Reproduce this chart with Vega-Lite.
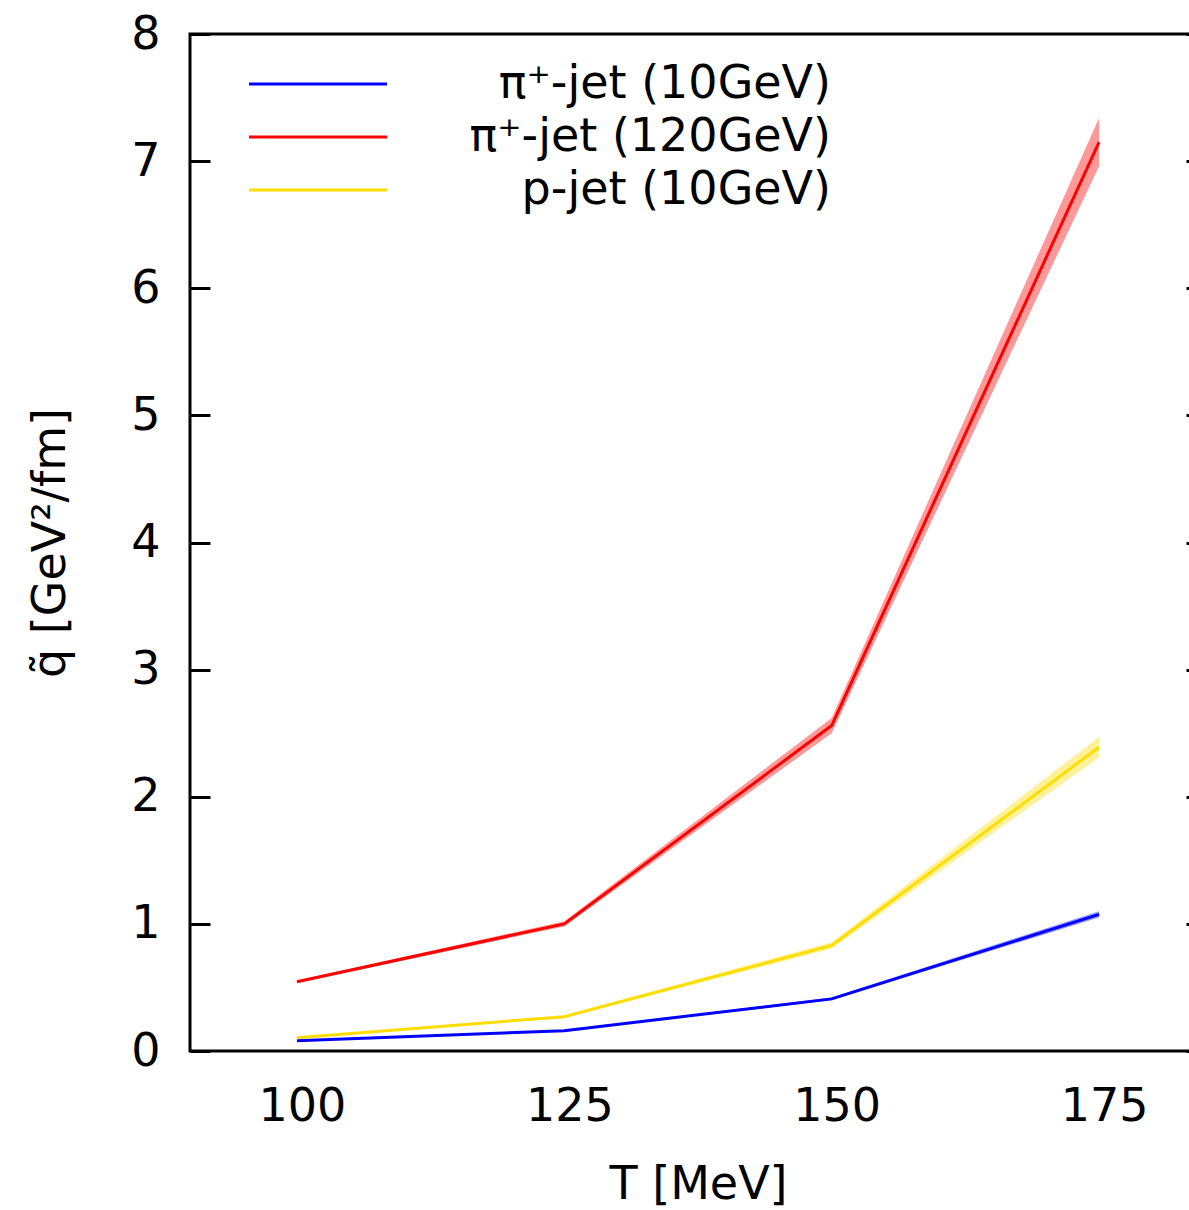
{
  "$schema": "https://vega.github.io/schema/vega-lite/v6.json",
  "width": 1016,
  "height": 1017,
  "autosize": {"type": "none"},
  "padding": {"left": 190, "top": 34, "right": 0, "bottom": 160},
  "background": "white",
  "view": {"stroke": "black", "strokeWidth": 3},
  "config": {
    "font": "DejaVu Sans"
  },
  "data": {
    "values": [
      {"s": "π⁺-jet (10GeV)", "T": 100, "q": 0.08, "lo": 0.077, "hi": 0.083},
      {"s": "π⁺-jet (10GeV)", "T": 125, "q": 0.16, "lo": 0.155, "hi": 0.165},
      {"s": "π⁺-jet (10GeV)", "T": 150, "q": 0.41, "lo": 0.40, "hi": 0.42},
      {"s": "π⁺-jet (10GeV)", "T": 175, "q": 1.075, "lo": 1.05, "hi": 1.10},
      {"s": "π⁺-jet (120GeV)", "T": 100, "q": 0.545, "lo": 0.535, "hi": 0.555},
      {"s": "π⁺-jet (120GeV)", "T": 125, "q": 1.0, "lo": 0.98, "hi": 1.02},
      {"s": "π⁺-jet (120GeV)", "T": 150, "q": 2.56, "lo": 2.50, "hi": 2.62},
      {"s": "π⁺-jet (120GeV)", "T": 175, "q": 7.15, "lo": 6.96, "hi": 7.34},
      {"s": "p-jet (10GeV)", "T": 100, "q": 0.105, "lo": 0.10, "hi": 0.11},
      {"s": "p-jet (10GeV)", "T": 125, "q": 0.27, "lo": 0.26, "hi": 0.28},
      {"s": "p-jet (10GeV)", "T": 150, "q": 0.83, "lo": 0.805, "hi": 0.855},
      {"s": "p-jet (10GeV)", "T": 175, "q": 2.39, "lo": 2.31, "hi": 2.47}
    ]
  },
  "resolve": {"axis": {"y": "independent"}},
  "layer": [
    {
      "mark": {"type": "area", "opacity": 0.4},
      "encoding": {
        "x": {
          "field": "T", "type": "quantitative",
          "scale": {"domain": [90, 185], "nice": false, "zero": false},
          "axis": {
            "values": [100, 125, 150, 175], "ticks": false, "domain": false, "grid": false,
            "labelFontSize": 46, "labelColor": "black", "labelPadding": 33, "labelOffset": 5,
            "title": "T [MeV]", "titleFontSize": 46, "titleFontWeight": "normal", "titleColor": "black", "titlePadding": 33
          }
        },
        "y": {
          "field": "lo", "type": "quantitative",
          "scale": {"domain": [0, 8], "nice": false},
          "axis": {
            "values": [0, 1, 2, 3, 4, 5, 6, 7, 8], "domain": false, "grid": false,
            "tickSize": -20, "tickWidth": 3, "tickColor": "black",
            "labelFontSize": 46, "labelColor": "black", "labelPadding": 50,
            "title": "q̃ [GeV²/fm]", "titleFontSize": 46, "titleFontWeight": "normal", "titleColor": "black", "titlePadding": 56
          }
        },
        "y2": {"field": "hi"},
        "color": {
          "field": "s", "type": "nominal",
          "scale": {"domain": ["π⁺-jet (10GeV)", "π⁺-jet (120GeV)", "p-jet (10GeV)"], "range": ["#0000ff", "#ff0000", "#ffdd00"]},
          "legend": {
            "orient": "none", "legendX": 105, "legendY": 27, "title": null,
            "symbolType": "M-5,0H5", "symbolSize": 762, "symbolStrokeWidth": 3, "symbolOpacity": 1,
            "labelFontSize": 46, "labelColor": "black", "labelAlign": "right", "labelOffset": 490,
            "rowPadding": 7, "padding": 0, "labelLimit": 1000
          }
        }
      }
    },
    {
      "mark": {"type": "line", "strokeWidth": 3},
      "encoding": {
        "x": {"field": "T", "type": "quantitative"},
        "y": {
          "field": "q", "type": "quantitative",
          "axis": {
            "orient": "right", "values": [0, 1, 2, 3, 4, 5, 6, 7, 8], "domain": false, "grid": false, "labels": false,
            "tickSize": -20, "tickWidth": 3, "tickColor": "black", "title": null
          }
        },
        "color": {"field": "s", "type": "nominal"}
      }
    }
  ]
}
